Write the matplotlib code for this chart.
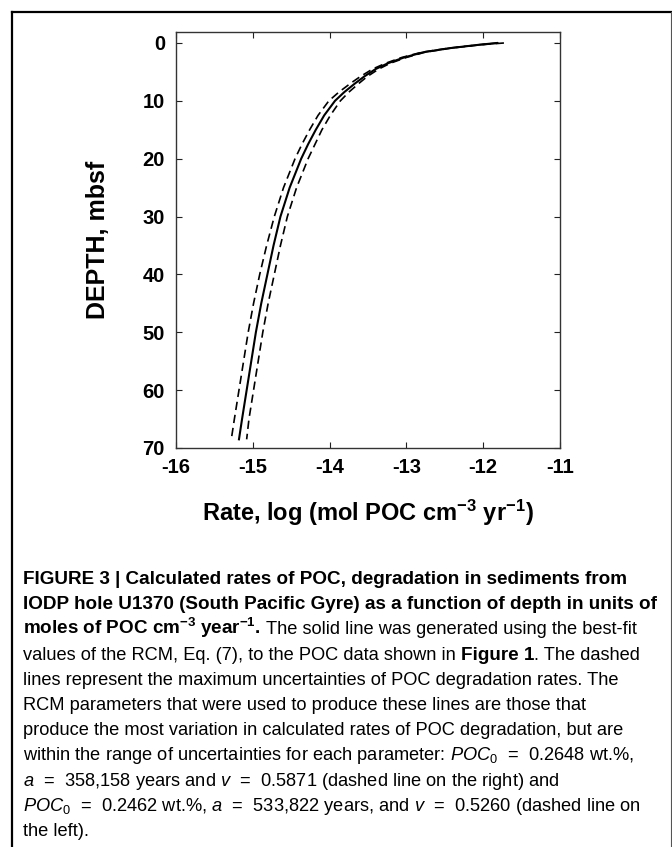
import matplotlib.pyplot as plt
from matplotlib.lines import Line2D

plt.rcParams['font.family'] = ['Liberation Sans', 'DejaVu Sans']
plt.rcParams['mathtext.fontset'] = 'custom'
plt.rcParams['mathtext.rm'] = 'Liberation Sans'
plt.rcParams['mathtext.it'] = 'Liberation Sans:italic'
plt.rcParams['mathtext.bf'] = 'Liberation Sans:bold'
plt.rcParams['lines.scale_dashes'] = False
plt.rcParams['axes.unicode_minus'] = False

# depth (mbsf) and log rate of POC degradation
depth = [0, 0.3, 0.9, 1.6, 2.5, 3.5, 4.5, 5.8, 7, 8.5, 10, 12.5, 15, 17.5, 20,
         25, 30, 35, 40, 45, 50, 55, 60, 65, 68.5]
rate_best = [-11.82, -12.05, -12.44, -12.78, -13.03, -13.24, -13.40, -13.55, -13.67, -13.81,
             -13.93, -14.07, -14.18, -14.28, -14.37, -14.52, -14.64, -14.73, -14.81, -14.89,
             -14.96, -15.02, -15.08, -15.14, -15.18]
rate_left = [-11.80, -12.05, -12.45, -12.80, -13.06, -13.27, -13.44, -13.60, -13.73, -13.88,
             -14.01, -14.15, -14.26, -14.36, -14.45, -14.60, -14.72, -14.82, -14.91, -14.99,
             -15.06, -15.12, -15.18, -15.24, -15.28]
rate_right = [-11.73, -12.03, -12.43, -12.76, -13.00, -13.21, -13.36, -13.51, -13.62, -13.75,
              -13.86, -13.99, -14.10, -14.19, -14.28, -14.43, -14.55, -14.64, -14.72, -14.80,
              -14.87, -14.93, -14.99, -15.05, -15.08]

xticks = [-16, -15, -14, -13, -12, -11]
yticks = [0, 10, 20, 30, 40, 50, 60, 70]

W, H = 672, 847
fig = plt.figure(figsize=(W / 100, H / 100), dpi=100)
ax = fig.add_axes([176 / W, 1 - 448 / H, 384 / W, 416 / H])

ax.plot(rate_best, depth, color='black', lw=1.5)
ax.plot(rate_left, depth, color='black', lw=1.2, dashes=(6, 3.5))
ax.plot(rate_right, depth, color='black', lw=1.2, dashes=(6, 3.5))

ax.set_xlim(-16, -11)
ax.set_ylim(70, -1.9)
ax.set_xticks(xticks)
ax.set_yticks(yticks)
ax.tick_params(direction='in', top=True, right=True, length=4, width=0.8,
               labelsize=14.5, colors='#222222', pad=7)
ax.tick_params(axis='y', pad=8)
for lab in ax.get_xticklabels() + ax.get_yticklabels():
    lab.set_fontweight('bold')
    lab.set_color('black')
for sp in ax.spines.values():
    sp.set_linewidth(1.0)
    sp.set_color('#333333')

fig.text(98 / W, 1 - 240 / H, 'DEPTH, mbsf', rotation=90, ha='center', va='center',
         fontsize=18, fontweight='bold')
fig.text(368 / W, 1 - 513 / H, r'Rate, log (mol POC cm$^{\mathbf{-3}}$ yr$^{\mathbf{-1}}$)',
         ha='center', va='center', fontsize=17, fontweight='bold')

# outer frame of the figure panel
fig.add_artist(Line2D([12 / W, 671 / W], [1 - 12 / H, 1 - 12 / H], color='black', lw=1.6))
fig.add_artist(Line2D([12 / W, 12 / W], [1 - 12 / H, 0], color='black', lw=1.6))
fig.add_artist(Line2D([671 / W, 671 / W], [1 - 12 / H, 0], color='#555555', lw=0.8))

# caption
renderer = fig.canvas.get_renderer()
B = dict(fontweight='bold', fontsize=13.6)
R = dict(fontweight='normal', fontsize=13.15)


def put_line(y_px, parts):
    x = 23
    for s, kw in parts:
        trail = s.endswith(' ')
        s = s.rstrip(' ')
        t = fig.text(x / W, 1 - y_px / H, s, ha='left', va='baseline', **kw)
        x = t.get_window_extent(renderer).x1
        if trail:
            a = fig.text(0, 0, 'a a', **kw)
            b = fig.text(0, 0, 'aa', **kw)
            x += a.get_window_extent(renderer).width - b.get_window_extent(renderer).width
            a.remove()
            b.remove()


caption = [
    [('FIGURE 3 | Calculated rates of POC, degradation in sediments from', B)],
    [('IODP hole U1370 (South Pacific Gyre) as a function of depth in units of', B)],
    [(r'moles of POC cm$^{\mathbf{-3}}$ year$^{\mathbf{-1}}$. ', B),
     ('The solid line was generated using the best-fit', R)],
    [('values of the RCM, Eq. (7), to the POC data shown in ', R), ('Figure 1', B),
     ('. The dashed', R)],
    [('lines represent the maximum uncertainties of POC degradation rates. The', R)],
    [('RCM parameters that were used to produce these lines are those that', R)],
    [('produce the most variation in calculated rates of POC degradation, but are', R)],
    [(r'within the range of uncertainties for each parameter: $\mathit{POC}_{\mathrm{0}}$  =  0.2648 wt.%,', R)],
    [(r'$\mathit{a}$  =  358,158 years and $\mathit{v}$  =  0.5871 (dashed line on the right) and', R)],
    [(r'$\mathit{POC}_{\mathrm{0}}$  =  0.2462 wt.%, $\mathit{a}$  =  533,822 years, and $\mathit{v}$  =  0.5260 (dashed line on', R)],
    [('the left).', R)],
]
for i, parts in enumerate(caption):
    put_line(584 + 25.2 * i, parts)

fig.savefig('out.png', dpi=100)
